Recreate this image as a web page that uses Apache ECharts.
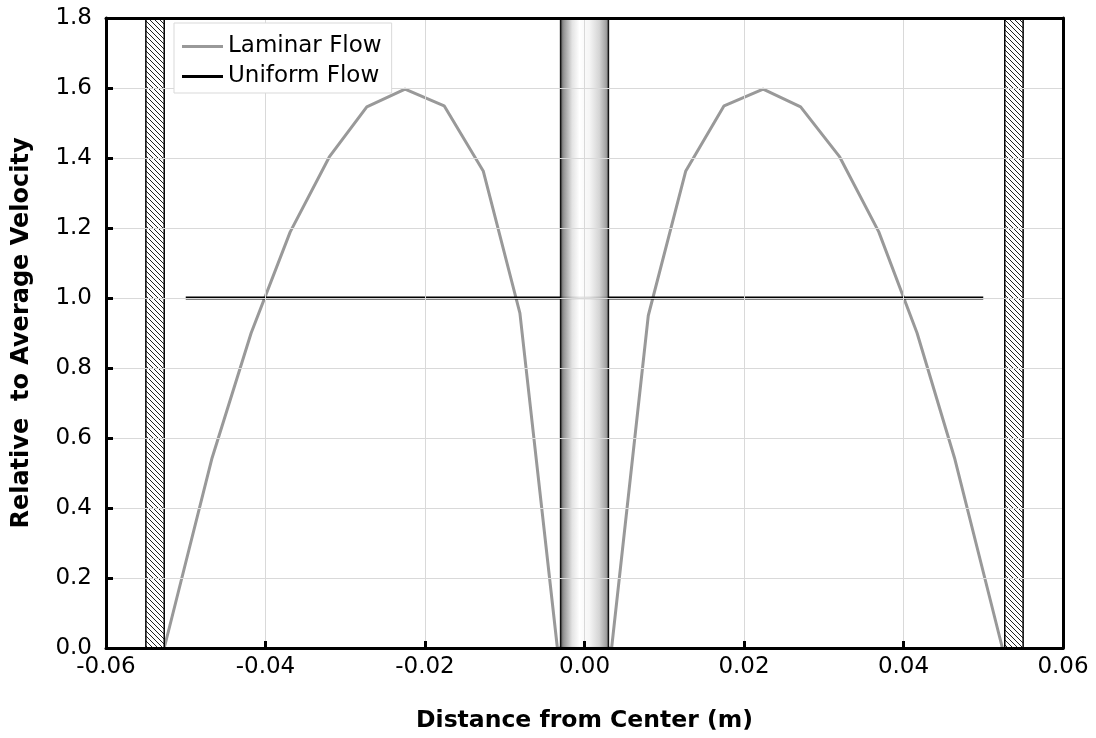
<!DOCTYPE html>
<html>
<head>
<meta charset="utf-8">
<script src="https://cdn.jsdelivr.net/npm/echarts@6/dist/echarts.min.js"></script>
<style>
html,body{margin:0;padding:0;background:#fff;}
#chart{width:1096px;height:738px;}
</style>
</head>
<body>
<div id="chart"></div>
<script>
// ---- data ----
const laminarX = [-0.0527, -0.0467, -0.0418, -0.0369, -0.0320, -0.0273, -0.0225, -0.0176, -0.0127, -0.0081, -0.0034,
                   0.0034, 0.0080, 0.0127, 0.0175, 0.0224, 0.0271, 0.0320, 0.0369, 0.0417, 0.0464, 0.0524];
const laminarY = [0, 0.543, 0.900, 1.189, 1.403, 1.546, 1.597, 1.549, 1.363, 0.957, 0,
                  0, 0.950, 1.363, 1.549, 1.597, 1.546, 1.403, 1.189, 0.900, 0.543, 0];
const uniformX = [-0.05, 0.05];
const uniformY = [1.0, 1.0];
// pipe geometry (m): outer walls and inner cylinder
const wallSpans = [[-0.055, -0.0527], [0.0527, 0.055]];
const cylinderSpan = [[-0.003, 0.003]];
const xTickLabels = ['-0.06', '-0.04', '-0.02', '0.00', '0.02', '0.04', '0.06'];
const yTickLabels = ['0.0', '0.2', '0.4', '0.6', '0.8', '1.0', '1.2', '1.4', '1.6', '1.8'];

// ---- build ----
const laminarData = laminarX.map((x, i) => [x, laminarY[i]]);
const uniformData = uniformX.map((x, i) => [x, uniformY[i]]);

// hatch pattern
const hatch = document.createElement('canvas');
const S = 5;
hatch.width = S; hatch.height = S;
const hc = hatch.getContext('2d');
hc.fillStyle = '#fff'; hc.fillRect(0, 0, S, S);
hc.strokeStyle = '#222'; hc.lineWidth = 1;
for (const o of [-S, 0, S]) { hc.beginPath(); hc.moveTo(o, 0); hc.lineTo(o + S, S); hc.stroke(); }

const FONT = 'DejaVu Sans';

function spanRender(fillFn, opacity) {
  return function (params, api) {
    const p0 = api.coord([api.value(0), 1.8]);
    const p1 = api.coord([api.value(1), 0]);
    return {
      type: 'rect',
      shape: { x: p0[0], y: p0[1], width: p1[0] - p0[0], height: p1[1] - p0[1] },
      style: { fill: fillFn(), stroke: '#000', lineWidth: 1.5, opacity: opacity }
    };
  };
}

const frameAxis = {
  type: 'value',
  axisLine: { show: true, onZero: false, lineStyle: { color: '#000', width: 3 } },
  axisTick: { show: false }, axisLabel: { show: false }, splitLine: { show: false },
  z: 6
};

const chart = echarts.init(document.getElementById('chart'));
chart.setOption({
  animation: false,
  backgroundColor: '#fff',
  textStyle: { fontFamily: FONT },
  grid: { left: 106, right: 33, top: 18, bottom: 90 },
  legend: {
    orient: 'vertical', left: 174, top: 23,
    padding: [12, 10, 5, 8], itemGap: 7,
    backgroundColor: '#fff', borderColor: '#d9d9d9', borderWidth: 1,
    itemWidth: 41, itemHeight: 3, icon: 'rect',
    textStyle: { fontFamily: FONT, fontSize: 23, color: '#000' },
    data: ['Laminar Flow', 'Uniform Flow'],
    z: 10
  },
  xAxis: [{
    type: 'value', min: -0.06, max: 0.06, interval: 0.02, position: 'bottom',
    name: 'Distance from Center (m)', nameLocation: 'middle', nameGap: 61,
    nameTextStyle: { fontFamily: FONT, fontSize: 23.5, fontWeight: 'bold', color: '#000' },
    axisLine: { show: true, onZero: false, lineStyle: { color: '#000', width: 3 } },
    axisTick: { show: true, inside: true, length: 7, lineStyle: { color: '#000', width: 3 } },
    axisLabel: { fontFamily: FONT, fontSize: 23, color: '#000', margin: 8,
      formatter: (v, i) => xTickLabels[i] },
    splitLine: { show: true, lineStyle: { color: '#d9d9d9', width: 1 } },
    z: 6
  }, Object.assign({}, frameAxis, { position: 'top', min: -0.06, max: 0.06 })],
  yAxis: [{
    type: 'value', min: 0, max: 1.8, interval: 0.2, position: 'left',
    name: 'Relative  to Average Velocity', nameLocation: 'middle', nameGap: 72, nameRotate: 90,
    nameTextStyle: { fontFamily: FONT, fontSize: 24, fontWeight: 'bold', color: '#000' },
    axisLine: { show: true, onZero: false, lineStyle: { color: '#000', width: 3 } },
    axisTick: { show: true, inside: true, length: 7, lineStyle: { color: '#000', width: 3 } },
    axisLabel: { fontFamily: FONT, fontSize: 23, color: '#000', margin: 14,
      formatter: (v, i) => yTickLabels[i] },
    splitLine: { show: true, lineStyle: { color: '#d9d9d9', width: 1 } },
    z: 6
  }, Object.assign({}, frameAxis, { position: 'right', min: 0, max: 1.8 })],
  series: [
    {
      name: 'Laminar Flow', type: 'line', data: laminarData, symbol: 'none',
      lineStyle: { color: '#999999', width: 3 }, itemStyle: { color: '#999999' }, z: 2
    },
    {
      name: 'Uniform Flow', type: 'line', data: uniformData, symbol: 'none',
      lineStyle: { color: '#000000', width: 3 }, itemStyle: { color: '#000000' }, z: 2
    },
    {
      type: 'custom', silent: true, data: wallSpans, z: 3,
      renderItem: spanRender(() => ({ image: hatch, repeat: 'repeat' }), 1)
    },
    {
      type: 'custom', silent: true, data: cylinderSpan, z: 3,
      renderItem: spanRender(() => new echarts.graphic.LinearGradient(0, 0, 1, 0, [
        { offset: 0, color: '#3a3a3a' },
        { offset: 0.08, color: '#8a8a8a' },
        { offset: 0.25, color: '#e0e0e0' },
        { offset: 0.4, color: '#ffffff' },
        { offset: 0.6, color: '#f4f4f4' },
        { offset: 0.8, color: '#d0d0d0' },
        { offset: 0.92, color: '#a0a0a0' },
        { offset: 1, color: '#707070' }
      ]), 0.9)
    }
  ]
});
</script>
</body>
</html>
